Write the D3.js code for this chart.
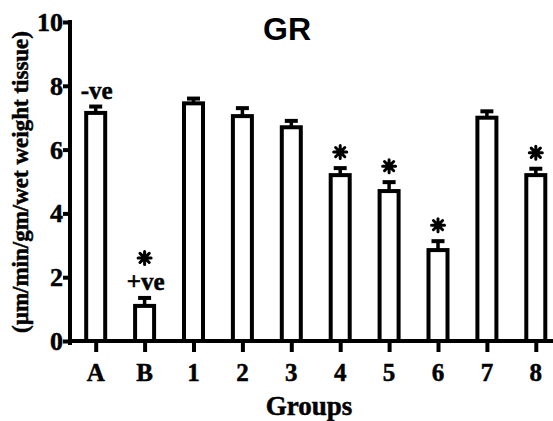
<!DOCTYPE html>
<html>
<head>
<meta charset="utf-8">
<script src="https://cdn.jsdelivr.net/npm/d3@7"></script>
<style>
  html, body { margin: 0; padding: 0; background: #fff; }
  svg { display: block; }
</style>
</head>
<body>
<svg id="chart" width="553" height="421"></svg>
<script>
const categories = ["A", "B", "1", "2", "3", "4", "5", "6", "7", "8"];
const values     = [7.15, 1.1, 7.45, 7.05, 6.7, 5.2, 4.7, 2.85, 7.0, 5.2];
const errors     = [0.2, 0.25, 0.15, 0.25, 0.2, 0.22, 0.28, 0.28, 0.2, 0.2];
const significant = ["B", "4", "5", "6", "8"];
const labels = [{cat: "A", text: "-ve"}, {cat: "B", text: "+ve"}];
const yTicks = [0, 2, 4, 6, 8, 10];

const SERIF = "'Liberation Serif', 'Times New Roman', serif";
const svg = d3.select("#chart");
const W = 553, H = 421;
svg.append("rect").attr("width", W).attr("height", H).attr("fill", "#fff");

const x = d3.scalePoint().domain(categories).range([71.25, 560.25]).padding(0.5);
const y = d3.scaleLinear().domain([0, 10]).range([341, 22]);

const barW = 19;
const data = categories.map((c, i) => ({c, v: values[i], e: errors[i]}));

function serif(sel, size) {
  return sel.attr("font-family", SERIF).attr("font-weight", "bold")
    .attr("font-size", size).attr("fill", "#000")
    .attr("stroke", "#000").attr("stroke-width", 0.5);
}

// Bars
svg.append("g").selectAll("rect").data(data).join("rect")
  .attr("x", d => x(d.c) - barW / 2)
  .attr("y", d => y(d.v))
  .attr("width", barW)
  .attr("height", d => y(0) - y(d.v))
  .attr("fill", "#fff")
  .attr("stroke", "#000")
  .attr("stroke-width", 4);

// Error bars
const eg = svg.append("g").attr("stroke", "#000");
eg.selectAll("line.stem").data(data).join("line")
  .attr("class", "stem")
  .attr("x1", d => x(d.c)).attr("x2", d => x(d.c))
  .attr("y1", d => y(d.v)).attr("y2", d => y(d.v + d.e))
  .attr("stroke-width", 3.5);
eg.selectAll("line.cap").data(data).join("line")
  .attr("class", "cap")
  .attr("x1", d => x(d.c) - 6.5).attr("x2", d => x(d.c) + 6.5)
  .attr("y1", d => y(d.v + d.e)).attr("y2", d => y(d.v + d.e))
  .attr("stroke-width", 4);

// Y axis (ticks via d3.axis, labels drawn explicitly)
const yAxis = d3.axisLeft(y).tickValues(yTicks).tickSize(7).tickFormat("");
const gy = svg.append("g").attr("transform", "translate(70,0)").call(yAxis);
gy.select(".domain").remove();
gy.selectAll(".tick line").attr("stroke", "#000").attr("stroke-width", 4);
const gyl = svg.append("g");
yTicks.forEach(t => {
  serif(gyl.append("text"), 26)
    .attr("text-anchor", "end")
    .attr("x", 63)
    .attr("y", y(t) + 9)
    .text(t);
});
svg.append("line").attr("x1", 70).attr("x2", 70).attr("y1", 20).attr("y2", 345)
  .attr("stroke", "#000").attr("stroke-width", 4);

// X axis
const xAxis = d3.axisBottom(x).tickSize(11).tickFormat("");
const gx = svg.append("g").attr("transform", `translate(0,${y(0)})`).call(xAxis);
gx.select(".domain").remove();
gx.selectAll(".tick line").attr("stroke", "#000").attr("stroke-width", 4);
const gxl = svg.append("g");
categories.forEach(c => {
  serif(gxl.append("text"), 25)
    .attr("text-anchor", "middle")
    .attr("x", x(c))
    .attr("y", 381)
    .text(c);
});
svg.append("line").attr("x1", 68).attr("x2", W).attr("y1", y(0)).attr("y2", y(0))
  .attr("stroke", "#000").attr("stroke-width", 4);

// Annotations: -ve / +ve
const lab = svg.append("g");
labels.forEach(l => {
  const d = data.find(dd => dd.c === l.cat);
  serif(lab.append("text"), 25)
    .attr("text-anchor", "middle")
    .attr("x", x(d.c) + 1)
    .attr("y", y(d.v + d.e) - 8)
    .text(l.text);
});

// Significance stars
function starPath(cx, cy, r) {
  let p = "";
  for (let k = 0; k < 4; k++) {
    const a = k * Math.PI / 4;
    const dx = r * Math.cos(a), dy = r * Math.sin(a);
    p += `M${cx - dx},${cy - dy}L${cx + dx},${cy + dy}`;
  }
  return p;
}
const sg = svg.append("g");
significant.forEach(c => {
  const d = data.find(dd => dd.c === c);
  const extra = labels.some(l => l.cat === c) ? 24 : 0;
  const cy = y(d.v + d.e) - 16 - extra;
  sg.append("path").attr("d", starPath(x(c), cy, 6.5))
    .attr("stroke", "#000").attr("stroke-width", 3).attr("stroke-linecap", "round");
});

// Title
svg.append("text").attr("x", 287).attr("y", 40).attr("text-anchor", "middle")
  .attr("font-family", "'Liberation Sans', Arial, sans-serif").attr("font-weight", "bold")
  .attr("font-size", 32).text("GR");

// Axis titles
serif(svg.append("text"), 27).attr("text-anchor", "middle")
  .attr("x", 309).attr("y", 415).text("Groups");
serif(svg.append("text"), 23).attr("text-anchor", "middle")
  .attr("transform", "translate(28,182) rotate(-90)").text("(µm/min/gm/wet weight tissue)");
</script>
</body>
</html>
